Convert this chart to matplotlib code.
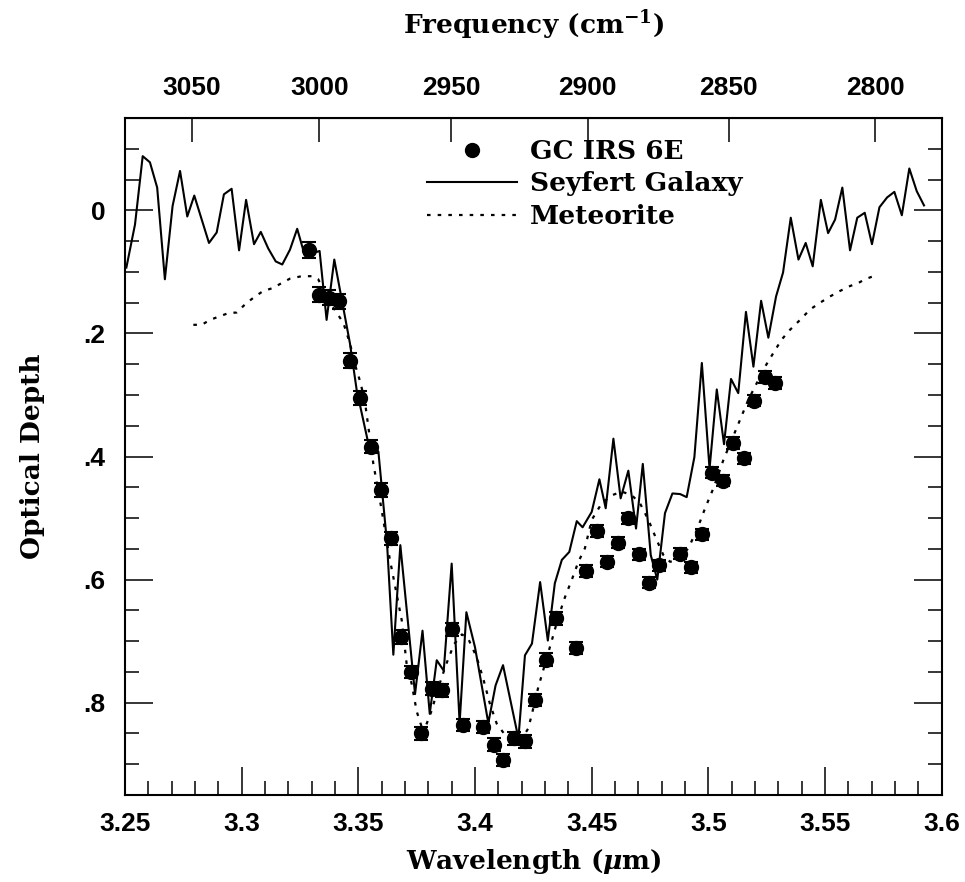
import numpy as np
import matplotlib
matplotlib.use("Agg")
import matplotlib.pyplot as plt
from matplotlib.lines import Line2D
from matplotlib.ticker import MultipleLocator

# GC IRS 6E measurements
irs_wl = [3.3290, 3.3333, 3.3376, 3.3418, 3.3464, 3.3507, 3.3553, 3.3596, 3.3639,
          3.3683, 3.3726, 3.3767, 3.3814, 3.3860, 3.3903, 3.3950, 3.4036, 3.4081,
          3.4121, 3.4167, 3.4214, 3.4259, 3.4303, 3.4347, 3.4433, 3.4474, 3.4524,
          3.4567, 3.4612, 3.4657, 3.4703, 3.4746, 3.4790, 3.4879, 3.4926, 3.4973,
          3.5017, 3.5062, 3.5107, 3.5153, 3.5197, 3.5243, 3.5286]
irs_tau = [0.065, 0.137, 0.142, 0.148, 0.244, 0.305, 0.384, 0.454, 0.533,
           0.693, 0.750, 0.850, 0.777, 0.780, 0.681, 0.836, 0.840, 0.868,
           0.893, 0.858, 0.863, 0.796, 0.730, 0.663, 0.711, 0.586, 0.521,
           0.571, 0.540, 0.500, 0.559, 0.605, 0.577, 0.558, 0.580, 0.526,
           0.426, 0.439, 0.378, 0.403, 0.309, 0.271, 0.281]
irs_err = [0.013, 0.012, 0.012, 0.012, 0.012, 0.011, 0.011, 0.011, 0.010,
           0.011, 0.010, 0.010, 0.011, 0.010, 0.011, 0.010, 0.010, 0.010,
           0.010, 0.010, 0.010, 0.010, 0.010, 0.010, 0.010, 0.010, 0.010,
           0.009, 0.009, 0.009, 0.009, 0.009, 0.009, 0.009, 0.009, 0.009,
           0.009, 0.009, 0.009, 0.009, 0.009, 0.010, 0.010]

# Seyfert galaxy spectrum
sey_wl = [3.2506, 3.2543, 3.2576, 3.2607, 3.2638, 3.2671, 3.2704, 3.2736, 3.2767,
          3.2797, 3.2860, 3.2893, 3.2924, 3.2957, 3.2989, 3.3019, 3.3053, 3.3082,
          3.3114, 3.3146, 3.3174, 3.3207, 3.3238, 3.3271, 3.3334, 3.3364, 3.3397,
          3.3429, 3.3464, 3.3493, 3.3539, 3.3586, 3.3623, 3.3650, 3.3680, 3.3743,
          3.3775, 3.3806, 3.3836, 3.3866, 3.3900, 3.3934, 3.3963, 3.4000, 3.4057,
          3.4088, 3.4120, 3.4186, 3.4214, 3.4244, 3.4279, 3.4312, 3.4342, 3.4372,
          3.4404, 3.4436, 3.4461, 3.4500, 3.4533, 3.4560, 3.4593, 3.4624, 3.4657,
          3.4690, 3.4719, 3.4753, 3.4781, 3.4814, 3.4846, 3.4879, 3.4907, 3.4940,
          3.4972, 3.5005, 3.5036, 3.5067, 3.5097, 3.5128, 3.5161, 3.5193, 3.5226,
          3.5257, 3.5290, 3.5320, 3.5353, 3.5386, 3.5417, 3.5447, 3.5482, 3.5513,
          3.5543, 3.5574, 3.5607, 3.5638, 3.5670, 3.5701, 3.5733, 3.5766, 3.5797,
          3.5829, 3.5861, 3.5893, 3.5924]
sey_tau = [0.093, 0.023, -0.088, -0.078, -0.037, 0.112, -0.007, -0.064, 0.010,
           -0.024, 0.053, 0.036, -0.026, -0.035, 0.065, -0.017, 0.055, 0.035,
           0.062, 0.083, 0.088, 0.064, 0.030, 0.074, 0.066, 0.178, 0.080,
           0.145, 0.216, 0.292, 0.372, 0.392, 0.541, 0.722, 0.544, 0.786,
           0.683, 0.818, 0.731, 0.748, 0.574, 0.833, 0.653, 0.710, 0.833,
           0.772, 0.739, 0.858, 0.723, 0.704, 0.604, 0.699, 0.606, 0.568,
           0.555, 0.505, 0.515, 0.490, 0.437, 0.484, 0.371, 0.468, 0.423,
           0.517, 0.412, 0.560, 0.600, 0.492, 0.460, 0.461, 0.466, 0.401,
           0.248, 0.420, 0.291, 0.380, 0.274, 0.297, 0.165, 0.254, 0.147,
           0.207, 0.140, 0.101, 0.012, 0.080, 0.053, 0.091, -0.017, 0.037,
           0.015, -0.037, 0.065, 0.012, 0.004, 0.055, -0.005, -0.021, -0.030,
           0.008, -0.068, -0.031, -0.008]

# Meteorite spectrum
met_wl = [3.2793, 3.2829, 3.2864, 3.2900, 3.2943, 3.2979, 3.3014, 3.3057, 3.3093,
          3.3136, 3.3172, 3.3207, 3.3257, 3.3304, 3.3328, 3.3379, 3.3436, 3.3464,
          3.3486, 3.3510, 3.3529, 3.3564, 3.3600, 3.3634, 3.3686, 3.3707, 3.3729,
          3.3750, 3.3772, 3.3790, 3.3814, 3.3843, 3.3877, 3.3910, 3.3944, 3.3971,
          3.4007, 3.4036, 3.4064, 3.4093, 3.4124, 3.4164, 3.4197, 3.4228, 3.4244,
          3.4271, 3.4300, 3.4329, 3.4357, 3.4386, 3.4414, 3.4443, 3.4471, 3.4500,
          3.4543, 3.4586, 3.4629, 3.4672, 3.4707, 3.4743, 3.4779, 3.4807, 3.4836,
          3.4871, 3.4914, 3.4950, 3.4986, 3.5021, 3.5064, 3.5100, 3.5136, 3.5171,
          3.5207, 3.5243, 3.5278, 3.5314, 3.5350, 3.5393, 3.5436, 3.5479, 3.5521,
          3.5564, 3.5607, 3.5643, 3.5671, 3.5707]
met_tau = [0.186, 0.186, 0.178, 0.173, 0.167, 0.166, 0.153, 0.140, 0.131,
           0.126, 0.118, 0.111, 0.107, 0.107, 0.112, 0.150, 0.183, 0.216,
           0.251, 0.281, 0.313, 0.411, 0.487, 0.565, 0.666, 0.737, 0.770,
           0.814, 0.840, 0.837, 0.813, 0.775, 0.737, 0.705, 0.689, 0.696,
           0.726, 0.762, 0.802, 0.834, 0.850, 0.858, 0.860, 0.842, 0.818,
           0.775, 0.737, 0.699, 0.661, 0.628, 0.601, 0.571, 0.549, 0.503,
           0.476, 0.463, 0.457, 0.463, 0.476, 0.503, 0.536, 0.560, 0.571,
           0.568, 0.549, 0.520, 0.484, 0.452, 0.406, 0.373, 0.340, 0.308,
           0.281, 0.254, 0.232, 0.210, 0.194, 0.178, 0.161, 0.150, 0.140,
           0.131, 0.123, 0.118, 0.112, 0.107]

x_ticks = [3.25, 3.3, 3.35, 3.4, 3.45, 3.5, 3.55, 3.6]
x_labels = ['3.25', '3.3', '3.35', '3.4', '3.45', '3.5', '3.55', '3.6']
y_ticks = [0, 0.2, 0.4, 0.6, 0.8]
y_labels = ['0', '.2', '.4', '.6', '.8']
freq_ticks = [3050, 3000, 2950, 2900, 2850, 2800]

plt.rcParams['font.family'] = 'DejaVu Serif'
plt.rcParams['font.weight'] = 'bold'
plt.rcParams['axes.labelweight'] = 'bold'
plt.rcParams['mathtext.fontset'] = 'dejavuserif'

dots = (0, (1.6, 3.2))

fig = plt.figure(figsize=(9.65, 8.82), dpi=100)
ax = fig.add_axes([0.1295, 0.0986, 0.8464, 0.7676])

ax.plot(sey_wl, sey_tau, color='black', lw=1.5)
ax.plot(met_wl, met_tau, color='black', lw=1.6, linestyle=dots)
ax.errorbar(irs_wl, irs_tau, yerr=irs_err, fmt='o', color='black', ms=10,
            capsize=5, elinewidth=1.3, capthick=1.5)

ax.set_xlim(3.25, 3.6)
ax.set_ylim(0.95, -0.15)

ax.set_xticks(x_ticks, x_labels)
ax.set_yticks(y_ticks, y_labels)
ax.xaxis.set_minor_locator(MultipleLocator(0.01))
ax.yaxis.set_minor_locator(MultipleLocator(0.05))
ax.tick_params(which='both', direction='in', right=True, top=False, width=1.1,
               labelsize=19, labelfontfamily='Liberation Sans')
ax.tick_params(which='major', length=20)
ax.tick_params(which='minor', length=10)
ax.tick_params(axis='x', which='major', pad=12)
ax.tick_params(axis='y', which='major', pad=14)
for s in ax.spines.values():
    s.set_linewidth(1.5)

sec = ax.secondary_xaxis('top', functions=(lambda w: 1e4 / w, lambda f: 1e4 / f))
sec.set_xticks(freq_ticks, [str(f) for f in freq_ticks])
sec.xaxis.set_minor_locator(plt.NullLocator())
sec.tick_params(direction='in', length=17, width=1.1, labelsize=19, pad=13,
                labelfontfamily='Liberation Sans')
sec.set_xlabel('Frequency (cm$^{\\mathbf{-1}}$)', fontsize=19,
               fontweight='bold', labelpad=30)

ax.set_xlabel('Wavelength ($\\mu$m)', fontsize=19, fontweight='bold', labelpad=8)
ax.set_ylabel('Optical Depth', fontsize=19, fontweight='bold', labelpad=28)

handles = [Line2D([], [], color='black', marker='o', ms=10, linestyle='none'),
           Line2D([], [], color='black', lw=1.5),
           Line2D([], [], color='black', lw=1.6, linestyle=dots)]
ax.legend(handles, ['GC IRS 6E', 'Seyfert Galaxy', 'Meteorite'],
          loc='upper left', bbox_to_anchor=(0.37, 0.969), frameon=False,
          prop={'size': 19, 'weight': 'bold'}, handlelength=3.4,
          handletextpad=0.5, labelspacing=0.28, borderpad=0, borderaxespad=0)

fig.savefig('out.png', dpi=100)
